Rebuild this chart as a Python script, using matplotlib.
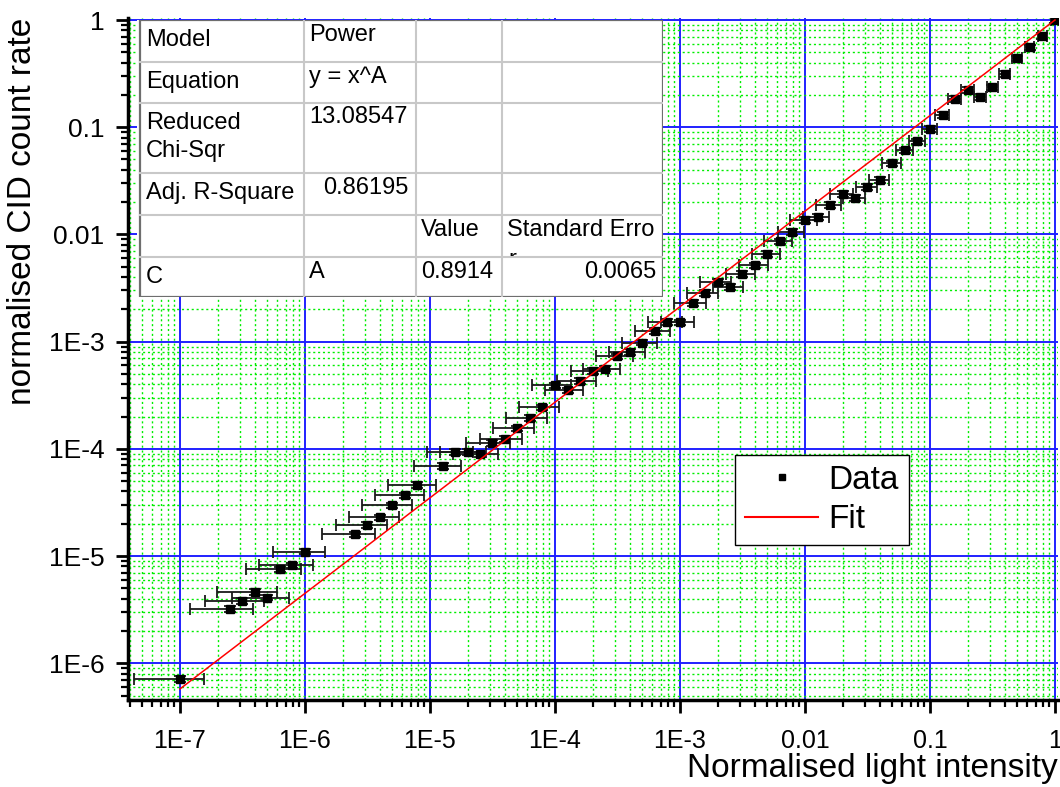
import numpy as np
import matplotlib
matplotlib.use("Agg")
import matplotlib.pyplot as plt
from matplotlib.lines import Line2D
from matplotlib.patches import Rectangle
from matplotlib.ticker import FixedLocator, FixedFormatter, LogLocator, NullFormatter

plt.rcParams["font.family"] = ["Liberation Sans", "DejaVu Sans"]

# normalised light intensity (x) and CID count rate (y)
light = [
    1.00e-7, 2.51e-7, 3.16e-7, 3.98e-7, 5.01e-7, 6.31e-7, 7.94e-7,
    1.00e-6, 2.51e-6, 3.16e-6, 3.98e-6, 5.01e-6, 6.31e-6, 7.94e-6,
    1.26e-5, 1.58e-5, 2.00e-5, 2.51e-5, 3.16e-5, 3.98e-5, 5.01e-5, 6.31e-5, 7.94e-5,
    1.00e-4, 1.26e-4, 1.58e-4, 2.00e-4, 2.51e-4, 3.16e-4, 3.98e-4, 5.01e-4, 6.31e-4, 7.94e-4,
    1.00e-3, 1.26e-3, 1.58e-3, 2.00e-3, 2.51e-3, 3.16e-3, 3.98e-3, 5.01e-3, 6.31e-3, 7.94e-3,
    1.00e-2, 1.26e-2, 1.58e-2, 2.00e-2, 2.51e-2, 3.16e-2, 3.98e-2, 5.01e-2, 6.31e-2, 7.94e-2,
    0.100, 0.126, 0.158, 0.200, 0.251, 0.316, 0.398, 0.501, 0.631, 0.794,
    1.0,
]
count_rate = [
    7.1e-7, 3.2e-6, 3.8e-6, 4.6e-6, 4.1e-6, 7.5e-6, 8.2e-6,
    1.10e-5, 1.59e-5, 1.95e-5, 2.30e-5, 2.97e-5, 3.68e-5, 4.62e-5,
    6.9e-5, 9.3e-5, 9.3e-5, 8.9e-5, 1.13e-4, 1.23e-4, 1.55e-4, 1.95e-4, 2.44e-4,
    3.9e-4, 3.5e-4, 4.3e-4, 5.35e-4, 5.6e-4, 7.3e-4, 8.05e-4, 9.8e-4, 1.26e-3, 1.53e-3,
    1.51e-3, 2.29e-3, 2.86e-3, 3.60e-3, 3.23e-3, 4.30e-3, 5.15e-3, 6.6e-3, 8.6e-3, 1.06e-2,
    1.36e-2, 1.45e-2, 1.88e-2, 2.40e-2, 2.19e-2, 2.79e-2, 3.22e-2, 4.61e-2, 6.1e-2, 7.4e-2,
    9.6e-2, 0.131, 0.183, 0.222, 0.191, 0.236, 0.316, 0.44, 0.556, 0.71,
    1.0,
]
# relative x uncertainty for each point
light_err_rel = [
    0.57, 0.52, 0.50, 0.50, 0.48, 0.47, 0.46,
    0.45, 0.45, 0.44, 0.43, 0.43, 0.42, 0.42,
    0.41, 0.40, 0.40, 0.39, 0.38, 0.37, 0.36, 0.36, 0.35,
    0.35, 0.34, 0.34, 0.33, 0.33, 0.32, 0.32, 0.31, 0.31, 0.30,
    0.30, 0.29, 0.28, 0.28, 0.27, 0.26, 0.26, 0.25, 0.25, 0.24,
    0.24, 0.23, 0.22, 0.21, 0.20, 0.19, 0.18, 0.17, 0.16, 0.15,
    0.14, 0.13, 0.12, 0.12, 0.11, 0.10, 0.10, 0.09, 0.08, 0.08,
    0.07,
]
RATE_ERR_REL = 0.06

# fit: y = x^A
FIT_A = 0.8914
fit_x = [1e-7, 1.0]

decades = [1e-7, 1e-6, 1e-5, 1e-4, 1e-3, 1e-2, 1e-1, 1.0]
x_ticklabels = ["1E-7", "1E-6", "1E-5", "1E-4", "1E-3", "0.01", "0.1", "1"]
y_decades = [1e-6, 1e-5, 1e-4, 1e-3, 1e-2, 1e-1, 1.0]
y_ticklabels = ["1E-6", "1E-5", "1E-4", "1E-3", "0.01", "0.1", "1"]

table_rows = [
    ("Model", "Power", "", ""),
    ("Equation", "y = x^A", "", ""),
    ("Reduced\nChi-Sqr", "13.08547", "", ""),
    ("Adj. R-Square", "0.86195", "", ""),
    ("", "", "Value", "Standard Erro"),
    ("C", "A", "0.8914", "0.0065"),
]

W, H = 1060, 787


def fig_box(x0, y0, x1, y1):
    return [x0 / W, 1 - y1 / H, (x1 - x0) / W, (y1 - y0) / H]


fig = plt.figure(figsize=(W / 100, H / 100), dpi=100)
ax = fig.add_axes(fig_box(128, 18, 1058, 700))

x = np.array(light)
y = np.array(count_rate)
ax.errorbar(x, y, xerr=x * np.array(light_err_rel), yerr=y * RATE_ERR_REL,
            fmt="none", ecolor="#1a1a1a", elinewidth=1.3, capsize=4.5,
            capthick=1.3, zorder=3)
ax.plot(x, y, "s", color="black", markersize=5.5, zorder=4)
fx = np.array(fit_x)
ax.plot(fx, fx ** FIT_A, color="red", lw=1.1, zorder=5)

ax.set_xscale("log")
ax.set_yscale("log")
ax.set_xlim(3.84e-8, 1.057)
ax.set_ylim(4.54e-7, 1.044)

ax.xaxis.set_major_locator(FixedLocator(decades))
ax.xaxis.set_major_formatter(FixedFormatter(x_ticklabels))
ax.yaxis.set_major_locator(FixedLocator(y_decades))
ax.yaxis.set_major_formatter(FixedFormatter(y_ticklabels))
for axis in (ax.xaxis, ax.yaxis):
    axis.set_minor_locator(LogLocator(base=10, subs=np.arange(2, 10), numticks=100))
    axis.set_minor_formatter(NullFormatter())

ax.grid(True, which="minor", color="#00ee00", lw=1.0, ls=(0, (1.5, 2)), zorder=0)
ax.grid(True, which="major", color="#2020ff", lw=1.4, zorder=1)
ax.set_axisbelow(True)

for s in ("top", "right"):
    ax.spines[s].set_visible(False)
for s in ("left", "bottom"):
    ax.spines[s].set_linewidth(2.5)

ax.tick_params(which="major", direction="out", length=9, width=2, color="black")
ax.tick_params(which="minor", direction="out", length=5, width=1.6, color="black")
ax.tick_params(axis="x", which="major", labelsize=18, pad=12)
ax.tick_params(axis="y", which="major", labelsize=19, pad=8)

ax.set_xlabel("Normalised light intensity", fontsize=24, loc="right", labelpad=0)
ax.set_ylabel("normalised CID count rate", fontsize=24, loc="top", labelpad=8)

handles = [
    Line2D([], [], marker="s", ls="none", color="black", markersize=5),
    Line2D([], [], color="red", lw=1.5),
]
leg = ax.legend(handles, ["Data", "Fit"], loc="upper left",
                bbox_to_anchor=(0.6527, 0.359), borderaxespad=0,
                fontsize=24, frameon=True, fancybox=False, framealpha=1,
                edgecolor="black", handlelength=2.2, handletextpad=0.3,
                borderpad=0.3, labelspacing=0.25)
leg.get_frame().set_linewidth(1.0)
leg.set_zorder(10)

# fit results table
tx0, ty0, tx1, ty1 = 137, 20, 663, 297
tab = fig.add_axes(fig_box(tx0, ty0, tx1, ty1), zorder=5)
tab.set_xlim(tx0, tx1)
tab.set_ylim(ty1, ty0)
tab.axis("off")
tab.add_patch(Rectangle((tx0, ty0), tx1 - tx0, ty1 - ty0, facecolor="white",
                        edgecolor="none"))
col_edges = [139.5, 303.5, 415.5, 501.5, 663]
row_edges = [20, 61.7, 102.7, 173.3, 215, 256.7, 297]
for cx in col_edges[1:-1]:
    tab.plot([cx, cx], [row_edges[0], row_edges[-1]], color="#c8c8c8", lw=1.5)
for ry in row_edges[1:-1]:
    tab.plot([col_edges[0], col_edges[-1]], [ry, ry], color="#c8c8c8", lw=1.5)
tab.add_patch(Rectangle((col_edges[0], row_edges[0]),
                        col_edges[-1] - col_edges[0], row_edges[-1] - row_edges[0],
                        facecolor="none", edgecolor="#6e6e6e", lw=1.6))

fs = 17
row_y = [(40, 35), (82, 77), (137, 117), (193, 188), (230, 230), (277, 272)]
for (lab, v1, v2, v3), (ya, yb) in zip(table_rows, row_y):
    tab.text(146, ya, lab, fontsize=fs, va="center", ha="left", linespacing=1.3)
    if lab == "Adj. R-Square":
        tab.text(408, yb, v1, fontsize=fs, va="center", ha="right")
    else:
        tab.text(309, yb, v1, fontsize=fs, va="center", ha="left")
    tab.text(421, yb, v2, fontsize=fs, va="center", ha="left")
    if v3 == "0.0065":
        tab.text(656, yb, v3, fontsize=fs, va="center", ha="right")
    else:
        tab.text(507, yb, v3, fontsize=fs, va="center", ha="left")
# wrapped last letter of "Standard Error", cut off by the cell border
clip = Rectangle((col_edges[3], row_edges[4]), col_edges[4] - col_edges[3],
                 row_edges[5] - row_edges[4] - 1, transform=tab.transData)
rt = tab.text(508, 249, "r", fontsize=fs, va="top", ha="left")
rt.set_clip_on(True)
rt.set_clip_path(clip)

fig.savefig("out.png", dpi=100)
